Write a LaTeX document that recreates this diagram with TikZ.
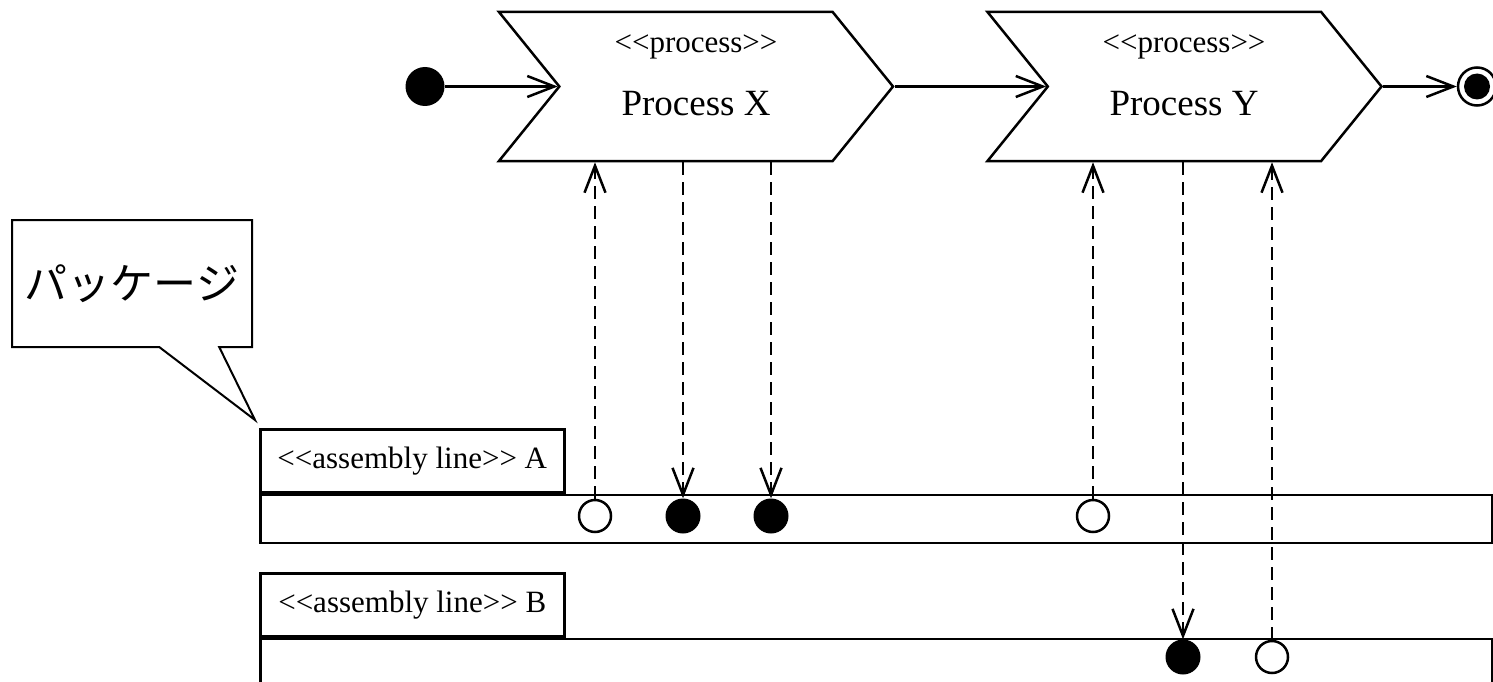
\documentclass[tikz,border=0pt]{standalone}
\usepackage{fontspec}
\setmainfont{Liberation Serif}
\newfontfamily\jpfont{Noto Sans CJK JP}
\usetikzlibrary{arrows.meta,shapes.symbols,shapes.callouts}
\newcommand{\stereo}[1]{<\kern0pt<#1>\kern0pt>}
\tikzset{
	process/.style={signal, signal to=east, signal from=west,
			signal pointer angle=102, draw, line width=2.5pt,
			minimum width=394pt, minimum height=149pt, inner sep=0pt},
	flow/.style={-{Straight Barb[length=27pt,width=21pt]}, line width=2.5pt},
	dep/.style={flow, dash pattern=on 13pt off 7pt},
	inpin/.style={circle, draw, fill=white, line width=2.5pt, minimum size=32pt, inner sep=0pt},
	outpin/.style={circle, fill=black, minimum size=35pt, inner sep=0pt},
	tab/.style={draw, line width=2.5pt, minimum width=304pt, minimum height=63pt,
			anchor=north west, font=\fontsize{31}{37}\selectfont},
	lane/.style={draw, line width=2.5pt, minimum width=1232pt, anchor=north west},
}

\begin{document}
\begin{tikzpicture}[x=1pt,y=-1pt]
    \useasboundingbox (0,0) rectangle (1493,682);
    % activity flow
    \node[circle, fill=black, minimum size=39pt, inner sep=0pt] (start) at (425,86.5) {};
    \node[process] (px) at (696,86.5) {};
    \node[process] (py) at (1184.5,86.5) {};
    \node[circle, draw, line width=2.5pt, minimum size=38pt, inner sep=0pt,
        path picture={\fill (path picture bounding box.center) circle (13pt);}] (end) at (1477,86.5) {};
    \node[font=\fontsize{31}{37}\selectfont] (pxs) at (696,47) {\stereo{process}};
    \node[font=\fontsize{37}{44}\selectfont] (pxn) at (696,104) {Process X};
    \node[font=\fontsize{31}{37}\selectfont] (pys) at (1184,47) {\stereo{process}};
    \node[font=\fontsize{37}{44}\selectfont] (pyn) at (1184,104) {Process Y};
    \draw[flow] (start) -- (px.west);
    \draw[flow] (px.east) -- (py.west);
    \draw[flow] (py.east) -- (end);
    % callout
    \node[rectangle callout, draw, line width=2pt, minimum width=240pt, minimum height=127pt,
        callout absolute pointer={(255,420)}, callout pointer width=60pt,
        font=\jpfont\fontsize{43}{50}\selectfont] (pkg) at (132,283.5) {パッケージ};
    % assembly lines
    \node[tab] (tabA) at (259,428) {\stereo{assembly line} A};
    \node[lane, minimum height=48pt] (laneA) at (tabA.south west) {};
    \node[tab] (tabB) at (259,572) {\stereo{assembly line} B};
    \node[lane, minimum height=80pt] (laneB) at (tabB.south west) {};
    % pins
    \node[inpin] (a1) at (595,516) {};
    \node[outpin] (a2) at (683,516) {};
    \node[outpin] (a3) at (771,516) {};
    \node[inpin] (a4) at (1093,516) {};
    \node[outpin] (b1) at (1183,657) {};
    \node[inpin] (b2) at (1272,657) {};
    \draw[dep] (a1) -- (a1 |- px.south);
    \draw[dep] (a2 |- px.south) -- (a2);
    \draw[dep] (a3 |- px.south) -- (a3);
    \draw[dep] (a4) -- (a4 |- py.south);
    \draw[dep] (b1 |- py.south) -- (b1);
    \draw[dep] (b2) -- (b2 |- py.south);
\end{tikzpicture}
\end{document}
